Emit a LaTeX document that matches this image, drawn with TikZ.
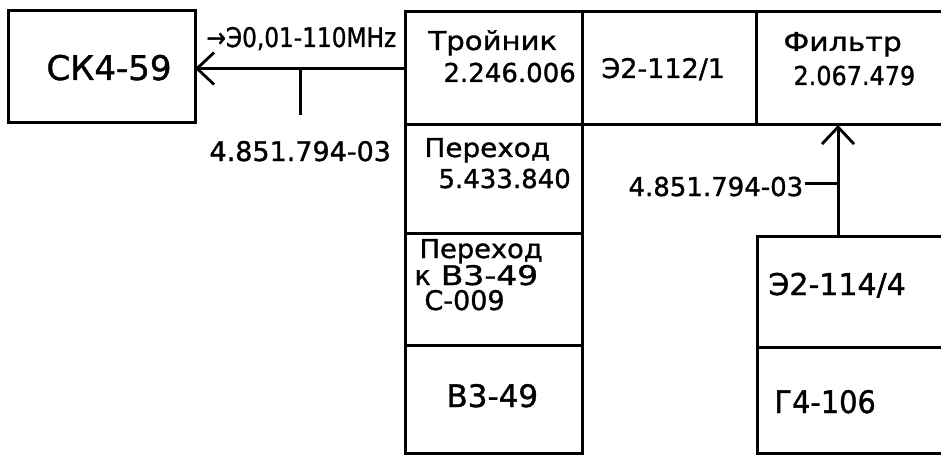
\documentclass[tikz,border=0pt]{standalone}
\usepackage{fontspec}
\usepackage{graphicx}
\setmainfont{DejaVu Sans}[FakeBold=1.2]
\usetikzlibrary{arrows.meta}
\newcommand\fs[1]{\fontsize{#1}{#1}\selectfont}
\newcommand\sx[2]{\scalebox{#1}[1]{#2}}
\begin{document}
\begin{tikzpicture}[x=1pt,y=-1pt,line width=3pt,
  box/.style={draw,rectangle,inner sep=0pt,outer sep=0pt,anchor=north west},
  txt/.style={inner sep=0pt,anchor=base west},
  arr/.style={-{Straight Barb[length=17pt,width=32pt,line width=2.8pt]}}]
\useasboundingbox (0,0) rectangle (941,457);
\clip (0,0) rectangle (941,457);
% boxes
\node[box,minimum width=187pt,minimum height=112pt] (ck) at (8,11) {};
\node[box,minimum width=177pt,minimum height=113pt] (troy) at (405,12) {};
\node[box,minimum width=174pt,minimum height=113pt] (e2a) at (582,12) {};
\node[box,minimum width=204pt,minimum height=113pt] (filt) at (756,12) {};
\node[box,minimum width=177pt,minimum height=108pt] (per1) at (405,125) {};
\node[box,minimum width=177pt,minimum height=112pt] (per2) at (405,233) {};
\node[box,minimum width=177pt,minimum height=108pt] (v3) at (405,345) {};
\node[box,minimum width=204pt,minimum height=111pt] (e2b) at (757,236) {};
\node[box,minimum width=204pt,minimum height=106pt] (g4) at (757,347) {};
% connectors
\draw[arr] (troy.west) -- (troy.west -| ck.east);
\coordinate (t1a) at (300,68);
\coordinate (t1b) at (300,115);
\draw (t1a) -- (t1b);
\coordinate (a2) at (838,236);
\draw[arr] (a2) -- (a2 |- filt.south);
\coordinate (t2a) at (805,183);
\coordinate (t2b) at (838,183);
\draw (t2a) -- (t2b);
% texts
\node[txt] (tck) at (45,80) {\fs{34}СК4-59};
\node[txt] (tfreq) at (205,47) {\fs{27}\sx{0.86}{→Э0,01-110MHz}};
\node[txt] (tl1) at (208,161) {\fs{27}\sx{1.0}{4.851.794-03}};
\node[txt] (ttroy) at (427,50) {\fs{26}\sx{1.12}{Тройник}};
\node[txt] (ttroyn) at (442,82) {\fs{26}2.246.006};
\node[txt] (te2a) at (600,78) {\fs{27}Э2-112/1};
\node[txt] (tfilt) at (782,51) {\fs{26}\sx{1.15}{Фильтр}};
\node[txt] (tfiltn) at (792,85) {\fs{26}\sx{0.92}{2.067.479}};
\node[txt] (tper1) at (423,157) {\fs{26}\sx{1.07}{Переход}};
\node[txt] (tper1n) at (437,188) {\fs{26}5.433.840};
\node[txt] (tl2) at (627,196) {\fs{26}4.851.794-03};
\node[txt] (tper2) at (418,258) {\fs{26}\sx{1.05}{Переход}};
\node[txt] (tkv) at (413,285) {\fs{27}к\hspace{10pt}\sx{1.22}{В3-49}};
\node[txt] (tc) at (423,310) {\fs{27}С-009};
\node[txt] (tv3) at (445,407) {\fs{31}В3-49};
\node[txt] (te2b) at (767,295) {\fs{30}Э2-114/4};
\node[txt] (tg4) at (773,413) {\fs{31}\sx{0.93}{Г4-106}};
\end{tikzpicture}
\end{document}
